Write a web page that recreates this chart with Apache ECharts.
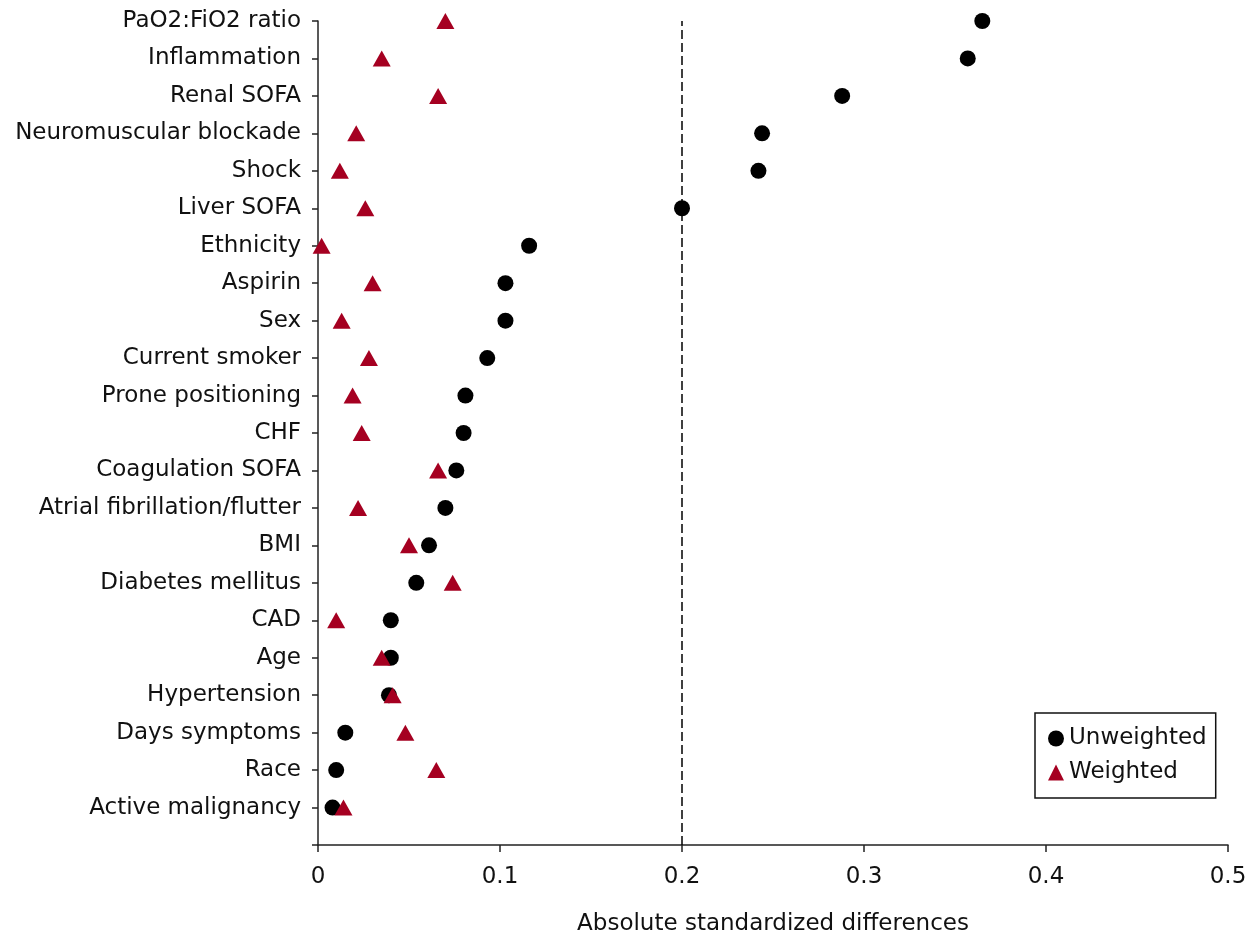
<!DOCTYPE html>
<html>
<head>
<meta charset="utf-8">
<script src="https://cdn.jsdelivr.net/npm/echarts@6/dist/echarts.min.js"></script>
<style>
html,body{margin:0;padding:0;background:#fff;}
#chart{width:1257px;height:938px;}
</style>
</head>
<body>
<div id="chart"></div>
<script>
// Categories, top to bottom
const categories = [
  "PaO2:FiO2 ratio", "Inflammation", "Renal SOFA", "Neuromuscular blockade", "Shock",
  "Liver SOFA", "Ethnicity", "Aspirin", "Sex", "Current smoker", "Prone positioning",
  "CHF", "Coagulation SOFA", "Atrial fibrillation/flutter", "BMI", "Diabetes mellitus",
  "CAD", "Age", "Hypertension", "Days symptoms", "Race", "Active malignancy"
];
const unweighted = [
  0.365, 0.357, 0.288, 0.244, 0.242,
  0.200, 0.116, 0.103, 0.103, 0.093, 0.081,
  0.080, 0.076, 0.070, 0.061, 0.054,
  0.040, 0.040, 0.039, 0.015, 0.010, 0.008
];
const weighted = [
  0.070, 0.035, 0.066, 0.021, 0.012,
  0.026, 0.002, 0.030, 0.013, 0.028, 0.019,
  0.024, 0.066, 0.022, 0.050, 0.074,
  0.010, 0.035, 0.041, 0.048, 0.065, 0.014
];
const xTicks = [0, 0.1, 0.2, 0.3, 0.4, 0.5];
const threshold = 0.2;

const n = categories.length;
const FONT = "DejaVu Sans";
const FS = 23;
const posOf = i => n - i;

const chart = echarts.init(document.getElementById('chart'), null, {renderer: 'canvas'});
chart.setOption({
  animation: false,
  backgroundColor: '#fff',
  textStyle: {fontFamily: FONT},
  grid: {left: 318, right: 29, top: 21, bottom: 93, containLabel: false, outerBoundsMode: 'none'},
  legend: {
    orient: 'vertical',
    left: 1035, top: 713,
    padding: [14, 9, 14, 13],
    itemGap: 11,
    itemWidth: 16, itemHeight: 16,
    borderColor: '#111', borderWidth: 1.5,
    backgroundColor: '#fff',
    textStyle: {fontFamily: FONT, fontSize: FS, color: '#111'},
    data: [
      {name: 'Unweighted', icon: 'circle'},
      {name: 'Weighted', icon: 'triangle'}
    ]
  },
  xAxis: {
    type: 'value',
    min: xTicks[0], max: xTicks[xTicks.length - 1], interval: 0.1,
    name: 'Absolute standardized differences',
    nameLocation: 'middle',
    nameGap: 68,
    nameTextStyle: {fontFamily: FONT, fontSize: FS, color: '#111'},
    axisLine: {show: true, lineStyle: {color: '#222', width: 1.5}},
    axisTick: {show: true, length: 7, lineStyle: {color: '#222', width: 1.5}},
    axisLabel: {fontFamily: FONT, fontSize: FS, color: '#111', margin: 21,
      formatter: v => String(Math.round(v * 10) / 10)},
    splitLine: {show: false}
  },
  yAxis: {
    type: 'value',
    min: 0, max: n, interval: 1,
    axisLine: {show: true, lineStyle: {color: '#222', width: 1.5}},
    axisTick: {show: true, length: 6, lineStyle: {color: '#222', width: 1.5}},
    axisLabel: {
      fontFamily: FONT, fontSize: FS, color: '#111', margin: 17,
      padding: [4, 0, 0, 0],
      formatter: v => (v >= 1 && v <= n) ? categories[n - v] : ''
    },
    splitLine: {show: false}
  },
  series: [
    {
      name: 'Unweighted',
      type: 'scatter',
      symbol: 'circle',
      symbolSize: 16,
      itemStyle: {color: '#000', opacity: 1},
      data: unweighted.map((v, i) => [v, posOf(i)]),
      z: 3,
      markLine: {
        silent: true,
        symbol: ['none', 'none'],
        label: {show: false},
        lineStyle: {color: '#000', width: 1.5, type: [9, 4]},
        data: [{xAxis: threshold}]
      }
    },
    {
      name: 'Weighted',
      type: 'scatter',
      symbol: 'triangle',
      symbolSize: [18, 16],
      itemStyle: {color: '#A50021', opacity: 1},
      data: weighted.map((v, i) => [v, posOf(i)]),
      z: 4
    }
  ]
});
</script>
</body>
</html>
